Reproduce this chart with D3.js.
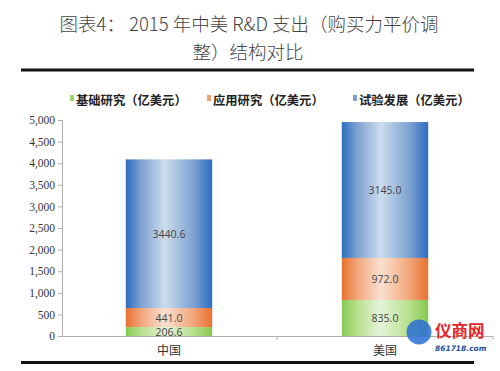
<!DOCTYPE html>
<html><head><meta charset="utf-8">
<script src="https://cdn.jsdelivr.net/npm/d3@7"></script>
<style>body{margin:0;background:#fff;}svg{display:block;}</style>
</head><body>
<svg id="c" width="500" height="371"></svg>
<script>
const categories = ["中国", "美国"];
const seriesNames = ["基础研究（亿美元）", "应用研究（亿美元）", "试验发展（亿美元）"];
const basic = [206.6, 835.0];
const applied = [441.0, 972.0];
const experimental = [3440.6, 3145.0];
const yTicks = [0, 500, 1000, 1500, 2000, 2500, 3000, 3500, 4000, 4500, 5000];

const svg = d3.select("#c");
const cjk = "'Noto Sans CJK SC', sans-serif";

// title
svg.append("text").attr("x", 249).attr("y", 31).attr("text-anchor", "middle")
  .attr("font-family", cjk).attr("font-weight", 300).attr("font-size", 18.5).attr("fill", "#444")
  .text("图表4：  2015 年中美 R&D 支出（购买力平价调");
svg.append("text").attr("x", 248).attr("y", 59).attr("text-anchor", "middle")
  .attr("font-family", cjk).attr("font-weight", 300).attr("font-size", 18.5).attr("fill", "#444")
  .text("整）结构对比");
svg.append("rect").attr("x", 21).attr("y", 68.5).attr("width", 453).attr("height", 3).attr("fill", "#111");
svg.append("rect").attr("x", 21).attr("y", 361).attr("width", 453).attr("height", 3).attr("fill", "#111");

const x = d3.scaleBand().domain(categories).range([61, 493]).paddingInner(0.6).paddingOuter(0.3);
const y = d3.scaleLinear().domain([0, 5000]).range([336, 120]);

// gradients
const defs = svg.append("defs");
const palettes = [
  ["#86c84e", "#b8e08e", "#e4f4d8", "#b8e08e", "#86c84e"],
  ["#e8702e", "#f2a77c", "#fbe0d0", "#f2a77c", "#e8702e"],
  ["#2c6cbf", "#7ea3d2", "#ccdcec", "#7ea3d2", "#2c6cbf"]
];
palettes.forEach((p, i) => {
  const g = defs.append("linearGradient").attr("id", "g" + i).attr("x1", "0").attr("x2", "1").attr("y1", "0").attr("y2", "0");
  [0, 0.18, 0.45, 0.78, 1].forEach((o, j) => g.append("stop").attr("offset", o).attr("stop-color", p[j]));
});

// axes
const yAxis = d3.axisLeft(y).tickValues(yTicks).tickSize(4).tickFormat(d3.format(","));
const ya = svg.append("g").attr("transform", "translate(62,0)").call(yAxis);
ya.select(".domain").attr("stroke", "#b0b0b0");
ya.selectAll(".tick line").attr("stroke", "#b0b0b0");
ya.selectAll(".tick text").attr("font-family", "'Liberation Serif', serif").attr("font-size", 11.5).attr("fill", "#333").attr("x", -7);

svg.append("line").attr("x1", 62).attr("x2", 493).attr("y1", 336.5).attr("y2", 336.5).attr("stroke", "#b0b0b0");
// category separator ticks
[61 + 216, 493].forEach(v => svg.append("line").attr("x1", v).attr("x2", v).attr("y1", 336.5).attr("y2", 340).attr("stroke", "#b0b0b0"));

const data = categories.map((c, i) => ({cat: c, v: [basic[i], applied[i], experimental[i]]}));
const stack = data.map(d => {
  let acc = 0;
  return d.v.map((v, k) => { const s = {cat: d.cat, k, v, y0: acc, y1: acc + v}; acc += v; return s; });
}).flat();

svg.append("g").selectAll("rect").data(stack).join("rect")
  .attr("x", d => x(d.cat)).attr("width", x.bandwidth())
  .attr("y", d => y(d.y1)).attr("height", d => y(d.y0) - y(d.y1))
  .attr("fill", d => `url(#g${d.k})`);

svg.append("g").selectAll("text").data(stack).join("text")
  .attr("x", d => x(d.cat) + x.bandwidth() / 2)
  .attr("y", d => (y(d.y0) + y(d.y1)) / 2 + 4)
  .attr("text-anchor", "middle")
  .attr("font-family", "'Open Sans', 'DejaVu Sans', sans-serif").attr("font-size", 10.5).attr("fill", "#444")
  .text(d => d.v.toFixed(1));

// category labels
svg.append("g").selectAll("text").data(categories).join("text")
  .attr("x", d => x(d) + x.bandwidth() / 2).attr("y", 355)
  .attr("text-anchor", "middle").attr("font-family", cjk).attr("font-size", 12).attr("fill", "#333")
  .text(d => d);

// legend
const legX = [70, 207, 353];
const legCol = ["#9fd474", "#f0a070", "#7fa0c8"];
const leg = svg.append("g").selectAll("g").data(seriesNames).join("g")
  .attr("transform", (d, i) => `translate(${legX[i]},100)`);
leg.append("rect").attr("x", 0).attr("y", -5).attr("width", 4).attr("height", 6).attr("fill", (d, i) => legCol[i]);
leg.append("text").attr("x", 6).attr("y", 4.5).attr("font-family", cjk).attr("font-weight", "bold")
  .attr("font-size", 12.3).attr("fill", "#222").text(d => d);

// watermark
svg.append("circle").attr("cx", 419).attr("cy", 332).attr("r", 12.5).attr("fill", "#2a6fd6").attr("opacity", 0.85);
svg.append("text").attr("x", 435).attr("y", 337).attr("font-family", cjk).attr("font-weight", "bold")
  .attr("font-size", 16.5).attr("fill", "#e3262a").text("仪商网");
svg.append("text").attr("x", 435).attr("y", 351).attr("font-family", "'DejaVu Sans', sans-serif").attr("font-style", "italic")
  .attr("font-weight", "bold").attr("font-size", 7.5).attr("fill", "#1a4fa0").text("861718.com");
</script>
</body></html>
